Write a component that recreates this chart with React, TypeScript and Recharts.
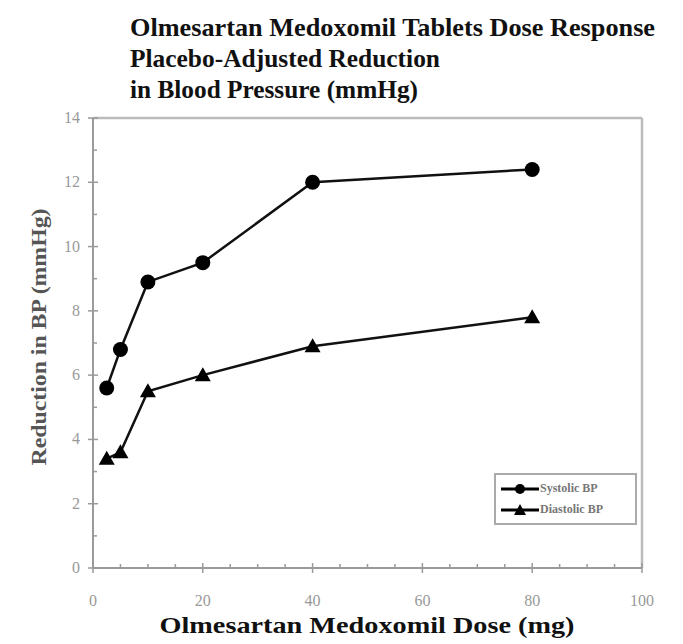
import React from "react";
import { LineChart, Line, XAxis, YAxis, ReferenceLine } from "recharts";

const doses = [2.5, 5, 10, 20, 40, 80];
const systolic = [5.6, 6.8, 8.9, 9.5, 12.0, 12.4];
const diastolic = [3.4, 3.6, 5.5, 6.0, 6.9, 7.8];
const xTicks = [0, 5, 10, 15, 20, 25, 30, 35, 40, 45, 50, 55, 60, 65, 70, 75, 80, 85, 90, 95, 100];
const yTicks = [0, 1, 2, 3, 4, 5, 6, 7, 8, 9, 10, 11, 12, 13, 14];
const titleLines = [
  "Olmesartan Medoxomil Tablets Dose Response",
  "Placebo-Adjusted Reduction",
  "in Blood Pressure (mmHg)",
];
const legendItems = [
  { name: "Systolic BP", shape: "circle" },
  { name: "Diastolic BP", shape: "triangle" },
];

const data = doses.map((d, i) => ({ dose: d, systolic: systolic[i], diastolic: diastolic[i] }));

const AXIS = "#9a9a9a";
const SERIF = '"Liberation Serif", "Times New Roman", Times, serif';

const XTick = (props: any) => {
  const { x, y, payload } = props;
  const v = payload.value;
  const major = v % 20 === 0;
  return (
    <g>
      <line x1={x} x2={x} y1={y - (major ? 5 : 4)} y2={y + (major ? 5 : 0)} stroke={AXIS} strokeWidth={1.5} />
      {major && (
        <text x={x} y={y + 38} textAnchor="middle" fill="#999" fontSize={16} style={{ fontFamily: SERIF }}>
          {v}
        </text>
      )}
    </g>
  );
};

const YTick = (props: any) => {
  const { x, y, payload } = props;
  const v = payload.value;
  const major = v % 2 === 0;
  return (
    <g>
      <line x1={x - (major ? 5 : 0)} x2={x + (major ? 5 : 4)} y1={y} y2={y} stroke={AXIS} strokeWidth={1.5} />
      {major && (
        <text x={x - 13} y={y + 5} textAnchor="end" fill="#999" fontSize={16} style={{ fontFamily: SERIF }}>
          {v}
        </text>
      )}
    </g>
  );
};

const Triangle = (props: any) => {
  const { cx, cy, size = 7 } = props;
  if (cx == null || cy == null) return null;
  return (
    <polygon
      points={`${cx},${cy - size} ${cx - size},${cy + size * 0.75} ${cx + size},${cy + size * 0.75}`}
      fill="#000"
    />
  );
};

const LegendBox = () => (
  <div
    style={{
      position: "absolute",
      left: 494,
      top: 473,
      width: 143,
      height: 52,
      border: "2px solid #aaa",
      boxSizing: "border-box",
      background: "#fff",
      fontFamily: SERIF,
      fontWeight: "bold",
      fontSize: 12,
      color: "#777",
      padding: "3px 0 0 4px",
    }}
  >
    {legendItems.map((it) => (
      <div key={it.name} style={{ display: "flex", alignItems: "center", height: 21 }}>
        <svg width={40} height={14}>
          <line x1={1} x2={39} y1={7} y2={7} stroke="#000" strokeWidth={3} />
          {it.shape === "circle" ? (
            <circle cx={20} cy={7} r={5} fill="#000" />
          ) : (
            <polygon points="20,1 14,12 26,12" fill="#000" />
          )}
        </svg>
        <span>{it.name}</span>
      </div>
    ))}
  </div>
);

export default function App() {
  return (
    <div style={{ position: "absolute", left: 0, top: 0, width: 683, height: 644, background: "#fff" }}>
      <LineChart width={683} height={644} data={data} margin={{ top: 118, right: 41, bottom: 36, left: 33 }}>
        <XAxis
          dataKey="dose"
          type="number"
          domain={[0, 100]}
          ticks={xTicks}
          interval={0}
          tick={<XTick />}
          tickLine={false}
          tickSize={0}
          tickMargin={0}
          height={40}
          axisLine={{ stroke: AXIS, strokeWidth: 2 }}
        />
        <YAxis
          type="number"
          domain={[0, 14]}
          ticks={yTicks}
          interval={0}
          tick={<YTick />}
          tickLine={false}
          tickSize={0}
          tickMargin={0}
          width={60}
          axisLine={{ stroke: AXIS, strokeWidth: 2 }}
        />
        <ReferenceLine y={14} stroke="#bbb" strokeWidth={2.5} />
        <ReferenceLine x={100} stroke="#bbb" strokeWidth={2.5} />
        <Line
          dataKey="systolic"
          name="Systolic BP"
          stroke="#111"
          strokeWidth={2.5}
          dot={{ r: 7.5, fill: "#000", stroke: "#000", strokeWidth: 0 }}
          isAnimationActive={false}
        />
        <Line
          dataKey="diastolic"
          name="Diastolic BP"
          stroke="#111"
          strokeWidth={2.5}
          dot={<Triangle size={8} />}
          isAnimationActive={false}
        />
      </LineChart>
      <LegendBox />
      <svg
        width={683}
        height={644}
        style={{ position: "absolute", left: 0, top: 0, pointerEvents: "none", fontFamily: SERIF, fontWeight: "bold" }}
      >
        <text x={130} y={36} fontSize={25} fill="#111" textLength={525} lengthAdjust="spacingAndGlyphs">
          {titleLines[0]}
        </text>
        <text x={130} y={67} fontSize={25} fill="#111" textLength={310} lengthAdjust="spacingAndGlyphs">
          {titleLines[1]}
        </text>
        <text x={130} y={98} fontSize={25} fill="#111" textLength={288} lengthAdjust="spacingAndGlyphs">
          {titleLines[2]}
        </text>
        <text
          transform="translate(46,337) rotate(-90)"
          textAnchor="middle"
          fontSize={20}
          fill="#555"
          textLength={257}
          lengthAdjust="spacingAndGlyphs"
        >
          Reduction in BP (mmHg)
        </text>
        <text x={367} y={633} textAnchor="middle" fontSize={24} fill="#111" textLength={415} lengthAdjust="spacingAndGlyphs">
          Olmesartan Medoxomil Dose (mg)
        </text>
      </svg>
    </div>
  );
}
